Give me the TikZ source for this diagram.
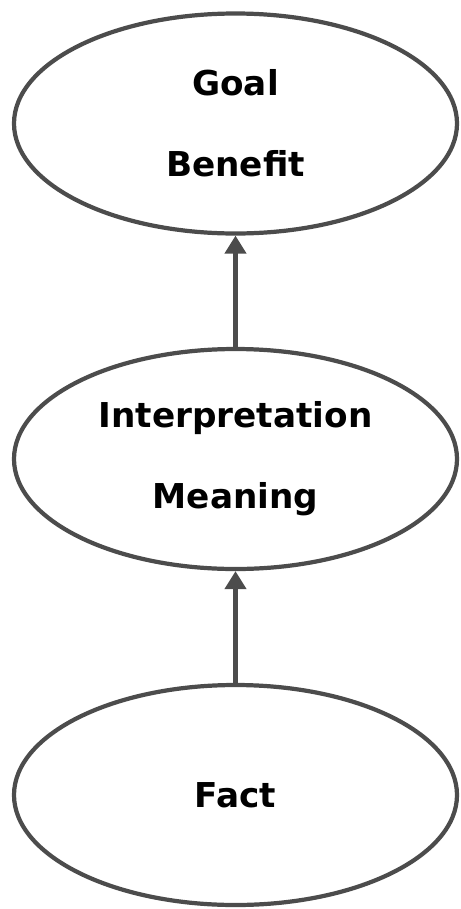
\documentclass[tikz,border=0pt]{standalone}
\usepackage{fontspec}
\setmainfont{DejaVu Sans}
\usetikzlibrary{shapes.geometric,arrows.meta}
\definecolor{rimgray}{HTML}{4C4C4C}
\begin{document}
\begin{tikzpicture}[
    bubble/.style={ellipse, draw=rimgray, line width=2.4pt, minimum width=8.86cm,
      minimum height=4.4cm, align=center, font=\bfseries\fontsize{19.5}{46}\selectfont},
    uparrow/.style={draw=rimgray, line width=2.4pt,
      -{Triangle[length=0.36cm, width=0.42cm]}}]
          \useasboundingbox (0,0) rectangle (9.22,-18.18);
          \node[bubble] (goal) at (4.71,-2.47){Goal\\Benefit};
          \node[bubble] (interp) at (4.71,-9.18){Interpretation\\Meaning};
          \node[bubble] (fact) at (4.71,-15.9){Fact};
          \draw[uparrow](interp) -- (goal);
          \draw[uparrow](fact) -- (interp);
        \end{tikzpicture}
\end{document}
